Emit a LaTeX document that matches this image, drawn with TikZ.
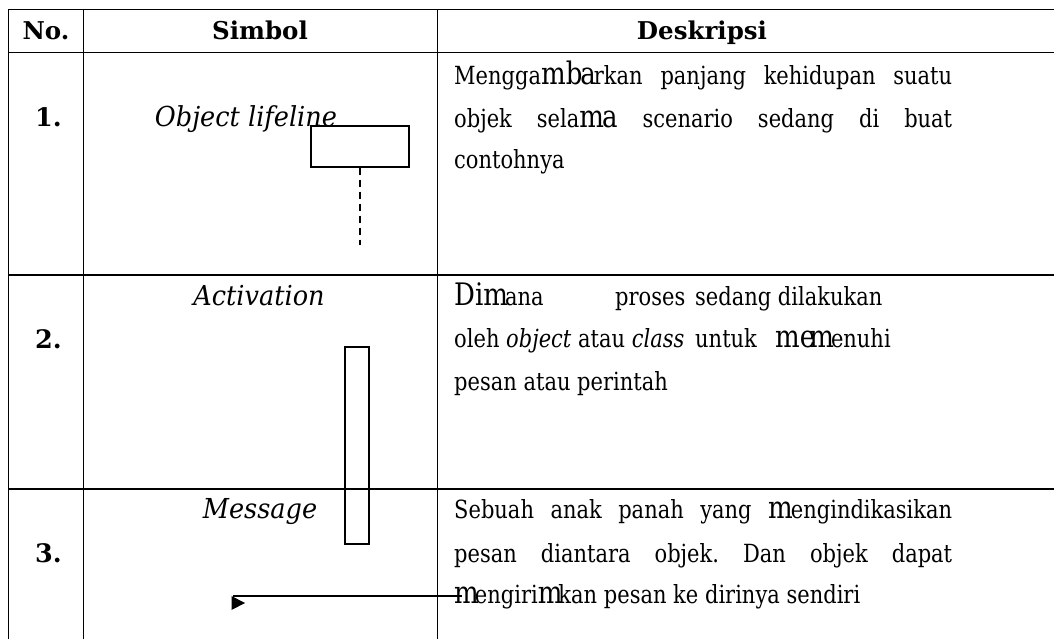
\documentclass[tikz,border=0pt]{standalone}
\usepackage{fontspec}
\setmainfont{DejaVu Serif}[FakeStretch=0.84]
\newfontfamily\hdf{DejaVu Serif}[FakeStretch=1.0]
\newfontfamily\symf{DejaVu Serif}[FakeStretch=0.93]
\newcommand\bg[1]{{\fontsize{31}{31}\selectfont #1}}
\frenchspacing
\begin{document}
\begin{tikzpicture}[x=1pt,y=-1pt,
  grid/.style={line width=1.4pt},
  shp/.style={line width=1.2pt},
  hdr/.style={anchor=base,inner sep=0pt,font=\hdf\fontsize{24.5}{24.5}\selectfont\bfseries},
  num/.style={anchor=base west,inner sep=0pt,font=\hdf\fontsize{25.5}{25.5}\selectfont\bfseries},
  sym/.style={anchor=base,inner sep=0pt,font=\symf\fontsize{27.5}{27.5}\selectfont\itshape},
  txt/.style={anchor=base west,inner sep=0pt,font=\fontsize{25}{25}\selectfont}]
\useasboundingbox (0,0) rectangle (1054,639);
% table grid
\draw[grid] (8.5,9.5) -- (1054,9.5);
\draw[grid] (8.5,52.5) -- (1054,52.5);
\draw[grid] (8.5,275) -- (1054,275);
\draw[grid] (8.5,489) -- (1054,489);
\draw[grid] (8.5,9.5) -- (8.5,639);
\draw[grid] (83.5,9.5) -- (83.5,639);
\draw[grid] (437.5,9.5) -- (437.5,639);
% header
\node[hdr] (hno) at (46,40) {No.};
\node[hdr] (hsim) at (260,40) {Simbol};
\node[hdr] (hdes) at (702,40) {Deskripsi};
% row 1
\node[num] (n1) at (35,127) {1.};
\node[sym] (s1) at (246,127) {Object lifeline};
\node[draw,shp,minimum width=98pt,minimum height=41pt,inner sep=0pt] (lbox) at (360,146.5) {};
\coordinate (lend) at (360,245);
\draw[line width=1.5pt,dash pattern=on 7pt off 5pt] (lbox.south) -- (lend);
\node[txt] (d11) at (454,85) {\makebox[498pt][s]{Mengga\bg{mb}\kern-2pt\bg{a}\kern-2pt rkan panjang kehidupan suatu}};
\node[txt] (d12) at (454,128) {\makebox[498pt][s]{objek sela\bg{m}\kern-2pt\bg{a} scenario sedang di buat}};
\node[txt] (d13) at (454,168) {contohnya};
% row 2
\node[num] (n2) at (35,348) {2.};
\node[sym] (s2) at (259,305) {Activation};
\node[draw,shp,minimum width=24pt,minimum height=197pt,inner sep=0pt] (abox) at (357,445.5) {};
\node[txt] (d21a) at (454,305) {\bg{Dim}\kern-3pt ana};
\node[txt] (d21b) at (615,305) {proses};
\node[txt] (d21c) at (695,305) {sedang dilakukan};
\node[txt] (d22a) at (454,347) {oleh \textit{object} atau \textit{class}};
\node[txt] (d22b) at (695,347) {untuk};
\node[txt] (d22c) at (775,347) {\bg{me}\kern-6pt\bg{m}\kern-3pt enuhi};
\node[txt] (d23) at (454,390) {pesan atau perintah};
% row 3
\node[num] (n3) at (35,562) {3.};
\node[sym] (s3) at (260,518) {Message};
\node[txt] (d31) at (454,518) {\makebox[498pt][s]{Sebuah anak panah yang \bg{m}\kern-2pt engindikasikan}};
\node[txt] (d32) at (454,562) {\makebox[498pt][s]{pesan diantara objek. Dan objek dapat}};
\node[txt] (d33) at (454,603) {\bg{m}\kern-4pt engiri\bg{m}\kern-4pt kan pesan ke dirinya sendiri};
\coordinate (mend) at (462,596);
\coordinate (mstart) at (233,596);
\draw[shp] (mend) -- (mstart);
\fill (231.5,596) -- (245,603) -- (231.5,610) -- cycle;
\end{tikzpicture}
\end{document}
